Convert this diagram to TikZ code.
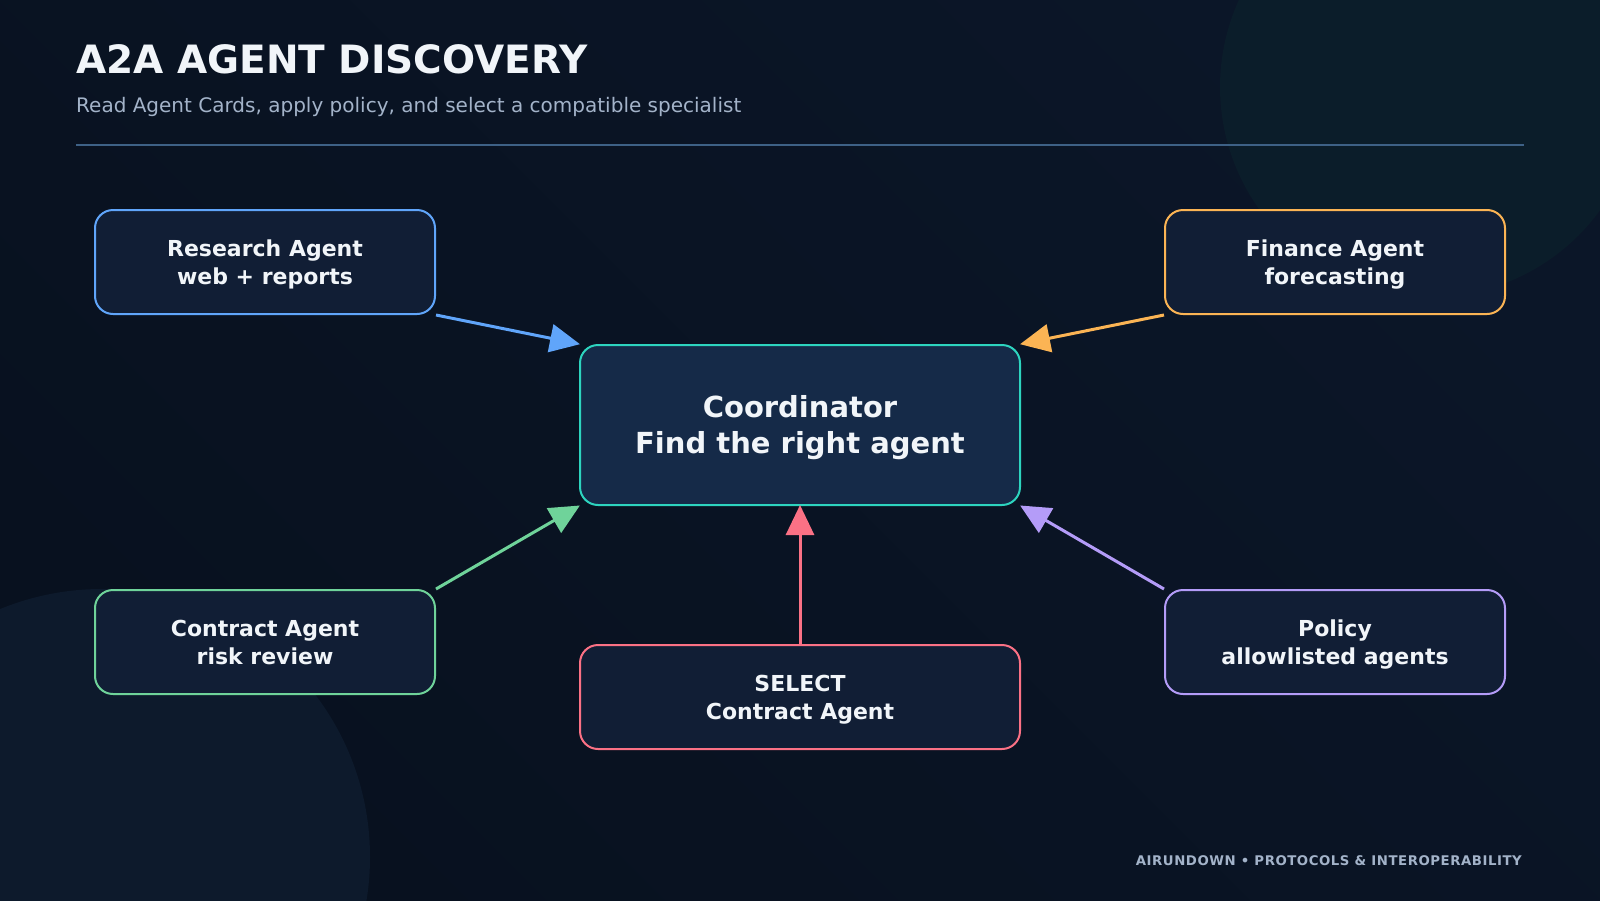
\documentclass[tikz,border=0pt]{standalone}
\usepackage{fontspec}
\setmainfont{DejaVu Sans}
\newfontfamily\footfont[LetterSpace=4]{DejaVu Sans}
\usetikzlibrary{arrows.meta}
\definecolor{bgA}{HTML}{08111F}
\definecolor{bgB}{HTML}{0B1628}
\definecolor{circA}{HTML}{0B1D2A}
\definecolor{circB}{HTML}{0D1A2C}
\definecolor{boxfill}{HTML}{111E35}
\definecolor{coordfill}{HTML}{152A48}
\definecolor{txt}{HTML}{F1F5F9}
\definecolor{subtxt}{HTML}{A3B3C9}
\definecolor{rule}{HTML}{3E6186}
\definecolor{cblue}{HTML}{60A5FA}
\definecolor{corange}{HTML}{FBB454}
\definecolor{cgreen}{HTML}{6FD39A}
\definecolor{cpurple}{HTML}{B49CF8}
\definecolor{cred}{HTML}{FB7185}
\definecolor{cteal}{HTML}{2DD4BF}
\newcommand\bxs{\rule[-4.4pt]{0pt}{26.4pt}}
\newcommand\cxs{\rule[-6.8pt]{0pt}{34.8pt}}
\tikzset{
  agentbox/.style={draw, line width=2pt, fill=boxfill, rounded corners=18pt,
    minimum width=340pt, minimum height=104pt, text=txt, align=center,
    font=\fontsize{22}{28}\selectfont\bfseries, inner sep=0pt},
  coordbox/.style={draw=cteal, line width=2pt, fill=coordfill, rounded corners=18pt,
    minimum width=440pt, minimum height=160pt, text=txt, align=center,
    font=\fontsize{29}{36}\selectfont\bfseries, inner sep=0pt},
  link/.style={line width=3pt, -{Triangle[length=30pt,width=28pt]}, shorten >=-1pt}
}
\begin{document}
\begin{tikzpicture}[x=1pt,y=-1pt]
\useasboundingbox (0,0) rectangle (1600,900);
\shade[left color=bgA, right color=bgB, shading angle=135] (0,0) rectangle (1600,900);
\fill[circA] (1430,87) circle (210);
\fill[circB] (102,857) circle (268);
% title
\node[anchor=base west, inner sep=0pt, text=txt, font=\fontsize{39}{44}\selectfont\bfseries] (title) at (76,73) {A2A AGENT DISCOVERY};
\node[anchor=base west, inner sep=0pt, text=subtxt, font=\fontsize{20}{24}\selectfont] (subtitle) at (76,112) {Read Agent Cards, apply policy, and select a compatible specialist};
\draw[rule, line width=1.5pt] (76,145) -- (1524,145);
% nodes
\node[coordbox] (coord) at (800,425) {\cxs Coordinator\\\cxs Find the right agent};
\node[agentbox, draw=cblue] (research) at (265,262) {\bxs Research Agent\\\bxs web + reports};
\node[agentbox, draw=corange] (finance) at (1335,262) {\bxs Finance Agent\\\bxs forecasting};
\node[agentbox, draw=cgreen] (contract) at (265,642) {\bxs Contract Agent\\\bxs risk review};
\node[agentbox, draw=cpurple] (policy) at (1335,642) {\bxs Policy\\\bxs allowlisted agents};
\node[agentbox, draw=cred, minimum width=440pt] (select) at (800,697) {\bxs SELECT\\\bxs Contract Agent};
% connectors
\draw[link, cblue] (research.south east) -- (coord.north west);
\draw[link, corange] (finance.south west) -- (coord.north east);
\draw[link, cgreen] (contract.north east) -- (coord.south west);
\draw[link, cpurple] (policy.north west) -- (coord.south east);
\draw[link, cred] (select.north) -- (coord.south);
% footer
\node[anchor=base east, inner sep=0pt, text=subtxt, font=\fontsize{13.3}{16}\selectfont\bfseries\footfont] (footer) at (1522,865) {AIRUNDOWN • PROTOCOLS \& INTEROPERABILITY};
\end{tikzpicture}
\end{document}
